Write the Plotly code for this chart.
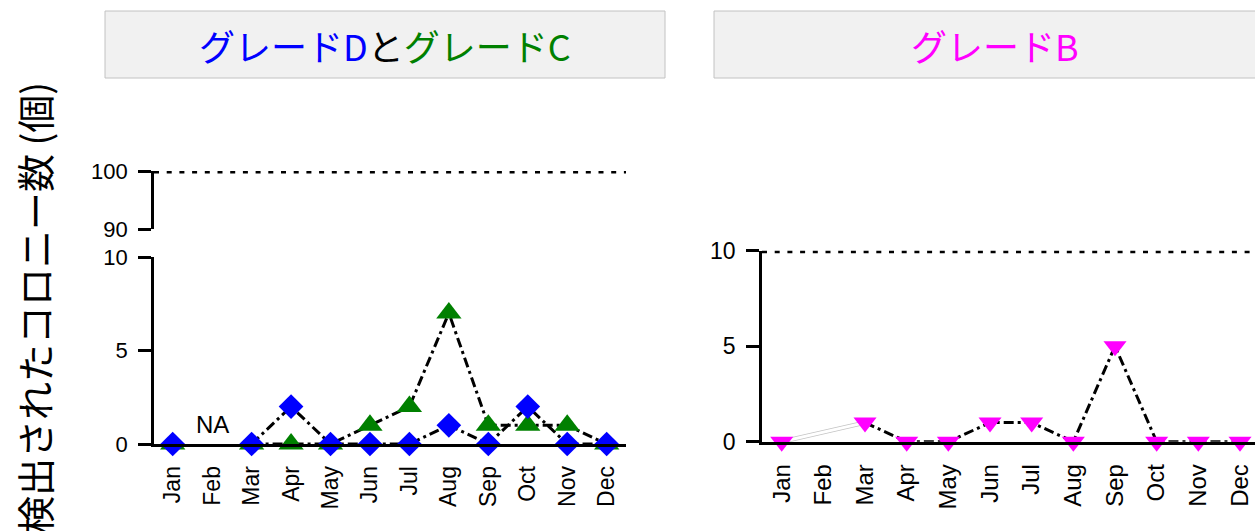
import plotly.graph_objects as go

# Monthly colony counts (None = no sampling that month)
months = ["Jan", "Feb", "Mar", "Apr", "May", "Jun",
          "Jul", "Aug", "Sep", "Oct", "Nov", "Dec"]
grade_d = [0, None, 0, 2, 0, 0, 0, 1, 0, 2, 0, 0]
grade_c = [0, None, 0, 0, 0, 1, 2, 7, 1, 1, 1, 0]
grade_b = [0, None, 1, 0, 0, 1, 1, 0, 5, 0, 0, 0]

# Action limits
limit_dc = 100
limit_b = 10

# Axis ticks (left panel uses a broken axis)
upper_ticks = [90, 100]
lower_ticks = [0, 5, 10]
right_ticks = [0, 5, 10]

W, H = 1255, 531


def fx(p):
    return p / W


def fy(p):
    return 1 - p / H


BLUE, GREEN, MAGENTA = "#0000ff", "#008000", "#ff00ff"
TICK_FONT = dict(family="Liberation Sans, Arial, sans-serif", size=22, color="black")
JP_FONT = "Noto Sans CJK JP"
dashdot = dict(color="black", width=3, dash="10px,4px,3px,4px")
dotted = dict(color="black", width=5, dash="5px,7.7px")

fig = go.Figure()

# ---- action-limit lines, spanning the full width of each panel ----
fig.add_trace(go.Scatter(x=[0, 1], y=[limit_dc, limit_dc], mode="lines", line=dotted,
                         xaxis="x3", yaxis="y2", cliponaxis=False, hoverinfo="skip"))
fig.add_trace(go.Scatter(x=[0, 1], y=[limit_b, limit_b], mode="lines", line=dotted,
                         xaxis="x4", yaxis="y3", cliponaxis=False, hoverinfo="skip"))

# ---- left panel: grade D and grade C ----
for vals in (grade_c, grade_d):
    fig.add_trace(go.Scatter(x=months, y=vals, mode="lines", line=dashdot,
                             xaxis="x", yaxis="y", cliponaxis=False,
                             hoverinfo="skip"))
fig.add_trace(go.Scatter(x=months, y=grade_c, mode="markers", xaxis="x", yaxis="y",
                         cliponaxis=False, name="グレードC",
                         marker=dict(symbol="triangle-up", size=22, color=GREEN,
                                     line=dict(width=0))))
fig.add_trace(go.Scatter(x=months, y=grade_d, mode="markers", xaxis="x", yaxis="y",
                         cliponaxis=False, name="グレードD",
                         marker=dict(symbol="diamond", size=19, color=BLUE,
                                     line=dict(width=0))))

# ---- right panel: grade B ----
# faint connector across the missing month
gap_x = [months[0], months[2]]
gap_y = [grade_b[0], grade_b[2]]
fig.add_trace(go.Scatter(x=gap_x, y=gap_y, mode="lines", xaxis="x2", yaxis="y3",
                         line=dict(color="#c4c4c4", width=4.5), hoverinfo="skip"))
fig.add_trace(go.Scatter(x=gap_x, y=gap_y, mode="lines", xaxis="x2", yaxis="y3",
                         line=dict(color="white", width=3), hoverinfo="skip"))
fig.add_trace(go.Scatter(x=months, y=grade_b, mode="lines", line=dashdot,
                         xaxis="x2", yaxis="y3", cliponaxis=False, hoverinfo="skip"))
fig.add_trace(go.Scatter(x=months, y=grade_b, mode="markers", xaxis="x2", yaxis="y3",
                         cliponaxis=False, name="グレードB",
                         marker=dict(symbol="triangle-down", size=20, color=MAGENTA,
                                     line=dict(width=0))))

axis_common = dict(showgrid=False, zeroline=False, showline=True, automargin=False,
                   linecolor="black", linewidth=2.7)
xaxis_common = dict(axis_common, type="category", categoryorder="array",
                    categoryarray=months, tickangle=-90, ticks="",
                    tickfont=dict(TICK_FONT, size=23), ticklabelstandoff=10)
yaxis_common = dict(axis_common, ticks="outside", ticklen=13, tickwidth=2.7,
                    tickcolor="black", tickfont=TICK_FONT, ticklabelstandoff=6)
cap_common = dict(showgrid=False, zeroline=False, showline=False, automargin=False,
                  ticks="inside", ticklen=9, tickwidth=2.7, tickcolor="black",
                  showticklabels=False, anchor="x", side="left")
span_common = dict(visible=False, range=[0, 1], automargin=False,
                   showgrid=False, zeroline=False)

fig.update_layout(
    template="none",
    width=W, height=H, autosize=False,
    margin=dict(l=0, r=0, t=0, b=0, pad=0, autoexpand=False),
    paper_bgcolor="white", plot_bgcolor="white",
    showlegend=False,
    xaxis=dict(xaxis_common, domain=[fx(154), fx(626)], range=[-0.474, 11.49],
               anchor="y"),
    yaxis=dict(yaxis_common, domain=[fy(444), fy(257)], range=[0, 10],
               tickvals=lower_ticks, anchor="x"),
    yaxis2=dict(yaxis_common, domain=[fy(229), fy(171)], range=[90, 100],
                tickvals=upper_ticks, anchor="x"),
    yaxis4=dict(cap_common, overlaying="y2", range=[90, 100], tickvals=[upper_ticks[0]]),
    yaxis5=dict(cap_common, overlaying="y", range=[0, 10], tickvals=[lower_ticks[-1]]),
    xaxis2=dict(xaxis_common, domain=[fx(762), 1.0], range=[-0.473, 11.36],
                anchor="y3", tickfont=dict(TICK_FONT, size=24)),
    yaxis3=dict(yaxis_common, domain=[fy(441.7), fy(250.7)], range=[0, 10],
                tickvals=right_ticks, anchor="x2", tickfont=dict(TICK_FONT, size=23)),
    xaxis3=dict(span_common, overlaying="x", anchor="y2"),
    xaxis4=dict(span_common, overlaying="x2", anchor="y3"),
)

# facet header strips
strip_style = dict(type="rect", xref="paper", yref="paper",
                   fillcolor="#f1f1f1", line=dict(color="#c2c2c2", width=1),
                   layer="below")
fig.add_shape(strip_style, x0=fx(105), x1=fx(665), y0=fy(78), y1=fy(11))
fig.add_shape(strip_style, x0=fx(714), x1=fx(1276), y0=fy(78), y1=fy(11))

centered = dict(xref="paper", yref="paper", showarrow=False,
                xanchor="center", yanchor="middle")
fig.add_annotation(
    centered, x=fx(385), y=fy(45),
    text=(f"<span style='color:{BLUE}'>グレードD</span>と"
          f"<span style='color:{GREEN}'>グレードC</span>"),
    font=dict(family=JP_FONT, size=36, color="black"))
fig.add_annotation(
    centered, x=fx(995), y=fy(45),
    text="グレードB", font=dict(family=JP_FONT, size=36, color=MAGENTA))

# missing-month marker
fig.add_annotation(xref="x", yref="y", x=months[1], y=0, yanchor="bottom",
                   yshift=4, showarrow=False, text="NA",
                   font=dict(TICK_FONT, size=24))

# shared y-axis title
fig.add_annotation(centered, x=fx(33), y=fy(308), textangle=-90,
                   text="検出されたコロニー数 (個)",
                   font=dict(family=JP_FONT, size=38, color="black"))

fig.write_html("out.html")
